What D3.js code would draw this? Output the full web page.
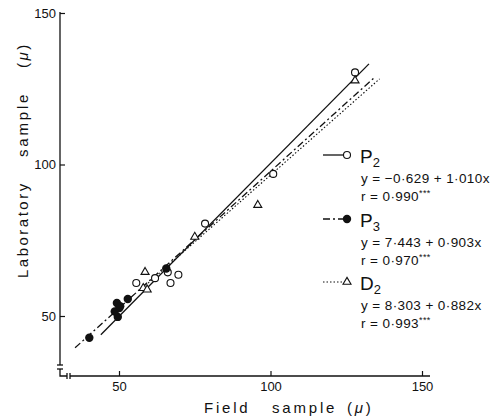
<!DOCTYPE html>
<html>
<head>
<meta charset="utf-8">
<script src="https://cdn.jsdelivr.net/npm/d3@7"></script>
<style>
  body { margin: 0; background: #fff; }
  svg { font-family: "Liberation Sans", Arial, sans-serif; }
</style>
</head>
<body>
<div id="chart"></div>
<script>
const WIDTH = 491, HEIGHT = 418;

// points: [field, laboratory]
const p2Points = [[55.7, 60.9], [61.9, 62.5], [66.1, 64.4], [67.0, 60.9], [69.6, 63.6],
                  [78.4, 80.5], [100.9, 96.9], [127.9, 130.4]];
const p3Points = [[40.2, 42.8], [49.6, 49.7], [48.6, 51.5], [50.1, 52.6], [49.3, 54.3],
                  [50.4, 53.2], [52.9, 55.6], [65.6, 65.7]];
const d2Points = [[58.6, 64.5], [58.0, 59.2], [59.3, 58.7], [75.0, 76.1], [95.8, 86.6],
                  [127.9, 127.7]];

// regression lines: intercept, slope, x range
const series = ["P2", "P3", "D2"];
const intercepts = [-0.629, 7.443, 8.303];
const slopes = [1.010, 0.903, 0.882];
const lineFrom = [44, 35.5, 57];
const lineTo = [132.5, 134.5, 136];
const eqTexts = ["y = \u22120\u00b7629 + 1\u00b7010x", "y = 7\u00b7443 + 0\u00b7903x", "y = 8\u00b7303 + 0\u00b7882x"];
const rTexts = ["r = 0\u00b7990", "r = 0\u00b7970", "r = 0\u00b7993"];

const xTicks = [50, 100, 150];
const yTicks = [50, 100, 150];

const dashes = ["none", "7,3,2,3", "1.5,2"];

const xScale = d3.scaleLinear().domain([50, 150]).range([119, 422]);
const yScale = d3.scaleLinear().domain([50, 150]).range([316, 13]);

const svg = d3.select("#chart").append("svg")
    .attr("width", WIDTH)
    .attr("height", HEIGHT);

// axes (ticks point inward)
const ejeX = d3.axisBottom(xScale).tickValues(xTicks).tickSizeInner(-5).tickSizeOuter(0).tickPadding(6);
const ejeY = d3.axisLeft(yScale).tickValues(yTicks).tickSizeInner(-5).tickSizeOuter(0).tickPadding(4);

const gx = svg.append("g").attr("transform", "translate(0,376)").call(ejeX);
const gy = svg.append("g").attr("transform", "translate(60,0)").call(ejeY);
gx.select(".domain").remove();
gy.select(".domain").remove();
svg.selectAll(".tick text").attr("font-size", 13).attr("fill", "#111")
    .attr("font-family", "Liberation Sans, Arial, sans-serif");
svg.selectAll(".tick line").attr("stroke", "#111").attr("stroke-width", 1.2);

// axis lines with breaks
const axisPaths = [
  "M60,12 V365", "M57,365 H63", "M57,369 H63",
  "M60,369 V376 H67", "M67,373 V379", "M70,373 V379", "M70,376 H430"
];
axisPaths.forEach(p => {
  svg.append("path").attr("d", p)
      .attr("stroke", "#111").attr("stroke-width", 1.3).attr("fill", "none");
});

// axis titles, word by word (wide spacing in the original)
const xTitle = svg.append("text")
    .attr("y", 413)
    .attr("font-size", 15)
    .attr("letter-spacing", 2.8)
    .attr("fill", "#111");
xTitle.append("tspan").attr("x", 204).text("Field");
xTitle.append("tspan").attr("x", 272).text("sample");
xTitle.append("tspan").attr("x", 347).text("(");
xTitle.append("tspan").attr("font-style", "italic").text("\u03bc");
xTitle.append("tspan").text(")");

const yTitle = svg.append("text")
    .attr("transform", "translate(28,0) rotate(-90)")
    .attr("font-size", 15)
    .attr("letter-spacing", 2.5)
    .attr("fill", "#111");
yTitle.append("tspan").attr("x", -278).text("Laboratory");
yTitle.append("tspan").attr("x", -157).attr("letter-spacing", 2.8).text("sample");
yTitle.append("tspan").attr("x", -68).text("(");
yTitle.append("tspan").attr("font-style", "italic").text("\u03bc");
yTitle.append("tspan").text(")");

// regression lines
const plot = svg.append("g");
series.forEach((s, i) => {
  const pts = [lineFrom[i], lineTo[i]].map(x => [xScale(x), yScale(intercepts[i] + slopes[i] * x)]);
  plot.append("path")
      .attr("d", d3.line()(pts))
      .attr("fill", "none")
      .attr("stroke", "#111")
      .attr("stroke-width", s === "D2" ? 1.1 : 1.3)
      .attr("stroke-dasharray", dashes[i]);
});

// markers
const triangle = d3.symbol().type(d3.symbolTriangle).size(28);

function drawMarker(g, kind, x, y) {
  if (kind === "P2") {
    g.append("circle").attr("cx", x).attr("cy", y).attr("r", 3.5)
        .attr("fill", "#fff").attr("stroke", "#111").attr("stroke-width", 1.1);
  } else if (kind === "P3") {
    g.append("circle").attr("cx", x).attr("cy", y).attr("r", 4.2).attr("fill", "#111");
  } else {
    g.append("path").attr("d", triangle).attr("transform", `translate(${x},${y})`)
        .attr("fill", "#fff").attr("stroke", "#111").attr("stroke-width", 1.1);
  }
}

[p2Points, p3Points, d2Points].forEach((pts, i) => {
  pts.forEach(d => drawMarker(plot, series[i], xScale(d[0]), yScale(d[1])));
});

// legend
const legendTop = [155, 219, 282];
const legend = svg.append("g");
series.forEach((s, i) => {
  const y0 = legendTop[i];
  legend.append("line")
      .attr("x1", 323).attr("x2", 344).attr("y1", y0).attr("y2", y0)
      .attr("stroke", "#111").attr("stroke-width", s === "D2" ? 1.1 : 1.3)
      .attr("stroke-dasharray", dashes[i]);
  drawMarker(legend, s, 347, y0);

  const lab = legend.append("text").attr("x", 360).attr("y", y0 + 8)
      .attr("font-size", 19).attr("fill", "#111");
  lab.append("tspan").text(s[0]);
  lab.append("tspan").attr("font-size", 13).attr("dy", 4).text(s[1]);

  legend.append("text").attr("x", 361).attr("y", y0 + 28)
      .attr("font-size", 13.5).attr("letter-spacing", 0.4)
      .attr("fill", "#111").text(eqTexts[i]);
  const rt = legend.append("text").attr("x", 361).attr("y", y0 + 46)
      .attr("font-size", 13.5).attr("letter-spacing", 0.4)
      .attr("fill", "#111").text(rTexts[i]);
  rt.append("tspan").attr("font-size", 9).attr("dy", -5).text("***");
});
</script>
</body>
</html>
